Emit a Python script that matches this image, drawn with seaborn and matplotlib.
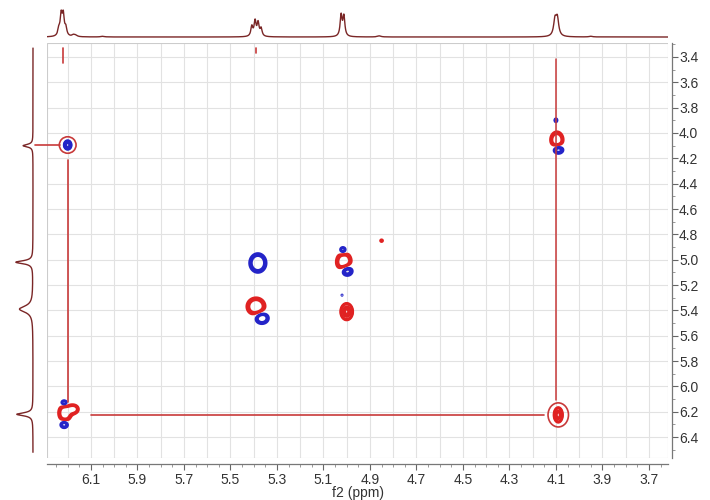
import numpy as np
import pandas as pd
import matplotlib
matplotlib.use("Agg")
import matplotlib.pyplot as plt
import seaborn as sns
from matplotlib.patches import Ellipse, Rectangle
from matplotlib.ticker import MultipleLocator, FormatStrFormatter

# Chemical shifts of the coupled spin system (ppm)
shift_a = 6.22
shift_b = 5.39
shift_c = 5.02
shift_d = 4.10

# 2D peak components: f2 position, f1 position, signed intensity, widths (ppm)
pk_f2 = [5.382, 5.390, 5.365, 5.016, 5.012, 5.000, 5.000, 6.212, 6.175, 6.215, 6.215, 6.200, 4.096, 4.090, 4.100, 4.090, 4.850, 5.020]
pk_f1 = [5.026, 5.370, 5.460, 4.925, 5.020, 5.085, 5.410, 6.210, 6.180, 6.130, 6.300, 4.095, 4.055, 4.130, 3.900, 6.225, 4.850, 5.280]
pk_amp = [-0.80, 0.75, -0.70, -0.50, 0.75, -0.70, 2.50, 0.70, 0.60, -0.50, -0.60, -1.50, 0.70, -0.60, -0.40, 2.00, 0.30, -0.25]
pk_w2 = [0.022, 0.025, 0.019, 0.011, 0.021, 0.018, 0.012, 0.018, 0.015, 0.011, 0.012, 0.008, 0.018, 0.016, 0.005, 0.009, 0.006, 0.003]
pk_w1 = [0.046, 0.044, 0.030, 0.020, 0.050, 0.030, 0.030, 0.044, 0.024, 0.017, 0.020, 0.018, 0.042, 0.024, 0.012, 0.028, 0.010, 0.006]

# f2 1D trace: individual lines (ppm, intensity, half-width)
line_ppm = [6.238, 6.228, 6.219, 6.208, 6.175, 6.165, 6.050, 5.408, 5.394, 5.381, 5.368, 5.024, 5.012, 4.104, 4.094, 4.860, 3.950]
line_int = [0.30, 0.92, 0.92, 0.35, 0.08, 0.06, 0.03, 0.45, 0.68, 0.60, 0.35, 0.95, 0.90, 0.72, 0.78, 0.05, 0.03]
line_w = [0.005, 0.005, 0.005, 0.005, 0.007, 0.007, 0.009, 0.005, 0.005, 0.005, 0.005, 0.005, 0.005, 0.007, 0.007, 0.009, 0.009]

# f1 projection trace (ppm, intensity, half-width)
proj_ppm = [4.10, 5.02, 5.39, 6.22]
proj_int = [0.55, 0.95, 0.75, 0.90]
proj_w = [0.012, 0.014, 0.030, 0.014]

x_limits = (6.289, 3.618)
y_limits = (6.565, 3.290)

red = "#e02222"
blue = "#2424c8"
trace = "#7a2626"
note = "#c83a3a"

sns.set_theme(style="white")
plt.rcParams["font.family"] = ["Liberation Sans", "DejaVu Sans"]

fig = plt.figure(figsize=(7.1, 5.0), dpi=100)
ax = fig.add_axes([47 / 710, 1 - 458 / 500, 621 / 710, 415 / 500])
ax_top = fig.add_axes([47 / 710, 1 - 43 / 500, 621 / 710, 35 / 500], sharex=ax)
ax_left = fig.add_axes([5 / 710, 1 - 458 / 500, 35 / 710, 415 / 500], sharey=ax)

# ---- 2D contour map ----
gx = np.linspace(x_limits[1], x_limits[0], 1400)
gy = np.linspace(y_limits[1], y_limits[0], 1100)
X, Y = np.meshgrid(gx, gy)
Z = np.zeros_like(X)
for x0, y0, a, wx, wy in zip(pk_f2, pk_f1, pk_amp, pk_w2, pk_w1):
    Z += a * np.exp(-0.5 * (((X - x0) / wx) ** 2 + ((Y - y0) / wy) ** 2))

pos_levels = [0.2, 0.28, 0.38, 1.0, 1.5, 2.1]
neg_levels = sorted(-v for v in pos_levels)
ax.contour(X, Y, Z, levels=pos_levels, colors=red, linewidths=1.6)
ax.contour(X, Y, Z, levels=neg_levels, colors=blue, linewidths=1.6,
           negative_linestyles="solid")

# correlation guide lines and circled cross peaks
ax.plot([shift_a - 0.02, shift_a - 0.02], [4.21, 6.12], color=note, lw=1.2)
ax.plot([6.10, 4.15], [shift_a + 0.005, shift_a + 0.005], color=note, lw=1.2)
ax.plot([shift_d - 0.002, shift_d - 0.002], [3.42, 6.11], color=note, lw=1.1)
ax.plot([6.341, 6.235], [shift_d - 0.005, shift_d - 0.005], color=note, lw=1.2, clip_on=False)
ax.plot([shift_a, shift_a], [3.33, 3.45], color=note, lw=1.2)
ax.plot([shift_b, shift_b], [3.33, 3.37], color=note, lw=1.2)
ax.add_patch(Ellipse((6.200, 4.095), 0.072, 0.13, fill=False, ec=note, lw=1.2))
ax.add_patch(Ellipse((4.090, 6.225), 0.088, 0.19, fill=False, ec=note, lw=1.2))

ax.set_xlim(*x_limits)
ax.set_ylim(*y_limits)
ax.set_xticks(np.arange(3.7, 6.15, 0.2))
ax.xaxis.set_major_formatter(FormatStrFormatter("%.1f"))
ax.xaxis.set_minor_locator(MultipleLocator(0.05))
ax.yaxis.tick_right()
ax.set_yticks(np.arange(3.4, 6.45, 0.2))
ax.yaxis.set_major_formatter(FormatStrFormatter("%.1f"))
ax.yaxis.set_minor_locator(MultipleLocator(0.1))

for v in np.arange(3.7, 6.25, 0.1):
    ax.axvline(v, color="#e2e2e2", lw=0.8, zorder=0)
for v in np.arange(3.4, 6.45, 0.2):
    ax.axhline(v, color="#e2e2e2", lw=0.8, zorder=0)

ax.tick_params(axis="x", which="major", direction="out", length=4, width=0.8,
               color="#666666", labelsize=10, labelcolor="#333333", pad=3, bottom=True)
ax.tick_params(axis="x", which="minor", direction="out", length=2, width=0.6,
               color="#888888", bottom=True)
ax.tick_params(axis="y", which="major", direction="out", length=4, width=0.8,
               color="#666666", labelsize=10, labelcolor="#333333", pad=1, right=True, left=False)
ax.tick_params(axis="y", which="minor", direction="out", length=2, width=0.6,
               color="#888888", right=True, left=False)

for side in ("left", "top"):
    ax.spines[side].set_visible(False)
for side in ("bottom", "right"):
    ax.spines[side].set_color("#777777")
    ax.spines[side].set_linewidth(0.9)
ax.spines["bottom"].set_position(("outward", 4))
ax.spines["right"].set_position(("outward", 3))
ax.add_patch(Rectangle((0, 0), 1, 1, transform=ax.transAxes, fill=False,
                       ec="#cccccc", lw=0.8, zorder=0.5))
ax.set_xlabel("f2 (ppm)", fontsize=10, color="#333333", labelpad=-1)
ax.set_ylabel("")

# ---- f2 trace on top ----
xs = np.linspace(x_limits[1], x_limits[0], 6000)
spec = np.zeros_like(xs)
for p, h, w in zip(line_ppm, line_int, line_w):
    spec += h * w ** 2 / ((xs - p) ** 2 + w ** 2)
top_df = pd.DataFrame({"ppm": xs, "intensity": spec})
sns.lineplot(data=top_df, x="ppm", y="intensity", ax=ax_top, color=trace,
             lw=1.0, estimator=None, sort=False)
ax_top.set_ylim(-0.272, 1.318)
ax_top.axis("off")

# ---- f1 projection on the left ----
ys = np.linspace(3.33, 6.52, 4000)
proj = np.zeros_like(ys)
for p, h, w in zip(proj_ppm, proj_int, proj_w):
    proj += h * w ** 2 / ((ys - p) ** 2 + w ** 2)
left_df = pd.DataFrame({"ppm": ys, "intensity": proj})
sns.lineplot(data=left_df, x="intensity", y="ppm", ax=ax_left, color=trace,
             lw=1.0, estimator=None, sort=False, orient="y")
ax_left.set_xlim(1.557, -0.389)
ax_left.axis("off")

fig.savefig("out.png", dpi=100)
